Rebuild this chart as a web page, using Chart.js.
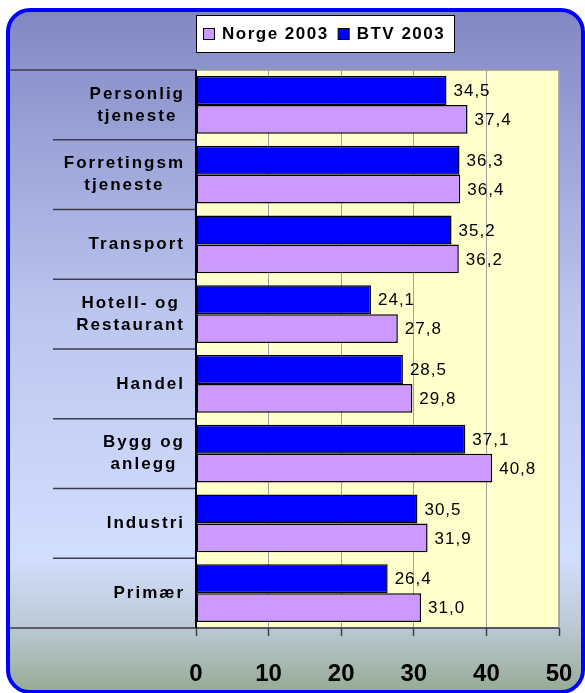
<!DOCTYPE html>
<html>
<head>
<meta charset="utf-8">
<script src="https://cdn.jsdelivr.net/npm/chart.js@4"></script>
<style>
body{margin:0;background:#fff}
#wrap{width:585px;height:693px;position:relative}
</style>
</head>
<body>
<div id="wrap"><canvas id="chart"></canvas></div>
<script>

// DATA

const categories = [
['Personlig','tjeneste'],
['Forretingsm','tjeneste'],
'Transport',
['Hotell- og','Restaurant'],
'Handel',
['Bygg og','anlegg'],
'Industri',
'Primær'
]

const btv2003 = [34.5,36.3,35.2,24.1,28.5,37.1,30.5,26.4]
const norge2003 = [37.4,36.4,36.2,27.8,29.8,40.8,31.9,31.0]

const xTicks = [0,10,20,30,40,50]

const FONT = "'Liberation Sans', Arial, sans-serif"

Chart.defaults.font.family = FONT


// BACKGROUND, PLOT AREA, LINES

const frame = {
id:'frame',
beforeDraw(chart){
const c = chart.ctx
const a = chart.chartArea
c.save()
let g = c.createLinearGradient(0,10,0,693)
g.addColorStop(0,'#8287c3')
g.addColorStop(0.2,'#9ca4d8')
g.addColorStop(0.45,'#bcc6ee')
g.addColorStop(0.8,'#d2defe')
g.addColorStop(0.9,'#bccad6')
g.addColorStop(1,'#96aa94')
c.beginPath()
c.roundRect(8,10,575,682,22)
c.fillStyle = g
c.fill()
c.lineWidth = 4
c.strokeStyle = '#0000ff'
c.stroke()

c.fillStyle = '#ffffcc'
c.fillRect(a.left,a.top,a.right-a.left,a.bottom-a.top)
c.strokeStyle = '#9a9a9a'
c.lineWidth = 1.5
c.strokeRect(a.left,a.top,a.right-a.left,a.bottom-a.top)
c.restore()
},
afterDatasetsDraw(chart){
const c = chart.ctx
const a = chart.chartArea
const y = chart.scales.y
c.save()
c.strokeStyle = '#3c3c4c'
c.lineWidth = 1.5

// top and bottom lines
c.beginPath()
c.moveTo(10,a.top); c.lineTo(a.left,a.top)
c.moveTo(10,a.bottom); c.lineTo(a.right,a.bottom)
c.stroke()

// dividers between categories
for(let i=1;i<categories.length;i++){
let yy = (y.getPixelForValue(i-1)+y.getPixelForValue(i))/2
c.beginPath()
c.moveTo(53,yy); c.lineTo(a.left,yy)
c.stroke()
}

// left axis line
c.strokeStyle = '#000'
c.lineWidth = 2
c.beginPath()
c.moveTo(a.left,a.top); c.lineTo(a.left,a.bottom)
c.stroke()

// value labels
c.fillStyle = '#000'
c.font = "17px " + FONT
c.letterSpacing = '1px'
c.textBaseline = 'middle'
c.textAlign = 'left'
chart.data.datasets.forEach((ds,di)=>{
chart.getDatasetMeta(di).data.forEach((bar,i)=>{
c.fillText(ds.data[i].toFixed(1).replace('.',','), bar.x+7, bar.y+1)
})
})

// category labels
c.font = "bold 17px " + FONT
c.letterSpacing = '2px'
c.textAlign = 'center'
categories.forEach((lab,i)=>{
let lines = Array.isArray(lab) ? lab : [lab]
let w = Math.max(...lines.map(l=>c.measureText(l).width))
let cx = 184 - w/2
let cy = y.getPixelForValue(i)
lines.forEach((l,k)=>{
c.fillText(l, cx+1, cy + (k-(lines.length-1)/2)*22)
})
})

// legend
c.fillStyle = '#fff'
c.fillRect(196,15,259,38)
c.strokeStyle = '#000'
c.lineWidth = 1
c.strokeRect(196.5,15.5,258,37)
c.font = "bold 17px " + FONT
c.letterSpacing = '1.5px'
c.textAlign = 'left'
let x = 203
chart.data.datasets.slice().reverse().forEach(ds=>{
c.fillStyle = ds.backgroundColor
c.fillRect(x+0.5,28.5,11,11)
c.strokeStyle = '#000'
c.strokeRect(x+0.5,28.5,11,11)
c.fillStyle = '#000'
c.fillText(ds.label, x+19, 34)
x += 19 + c.measureText(ds.label).width + 9
})
c.restore()
}
}


// CHART

const ctx = document.getElementById('chart')

new Chart(ctx,{
type:'bar',
data:{
labels:categories,
datasets:[
{label:'BTV 2003',data:btv2003,backgroundColor:'#0000ff',borderColor:'#000',borderWidth:1.5,borderSkipped:false,categoryPercentage:0.83,barPercentage:1},
{label:'Norge 2003',data:norge2003,backgroundColor:'#cc99ff',borderColor:'#000',borderWidth:1.5,borderSkipped:false,categoryPercentage:0.83,barPercentage:1}
]
},
options:{
indexAxis:'y',
responsive:true,
maintainAspectRatio:false,
animation:false,
layout:{padding:{top:70,right:26,left:0,bottom:0}},
plugins:{legend:{display:false},tooltip:{enabled:false}},
scales:{
x:{
min:0,max:50,
afterBuildTicks(s){ s.ticks = xTicks.map(v=>({value:v})) },
afterFit(s){ s.height = 65; s.paddingLeft = 0; s.paddingRight = 0 },
border:{display:false},
grid:{color:'#a0a0a0',lineWidth:1,tickLength:8,tickColor:'#404040',tickWidth:1.5},
ticks:{color:'#000',font:{size:24,weight:'bold'},padding:24,maxRotation:0}
},
y:{
afterFit(s){ s.width = 196 },
border:{display:false},
grid:{display:false},
ticks:{display:false}
}
}
},
plugins:[frame]
})

</script>
</body>
</html>
